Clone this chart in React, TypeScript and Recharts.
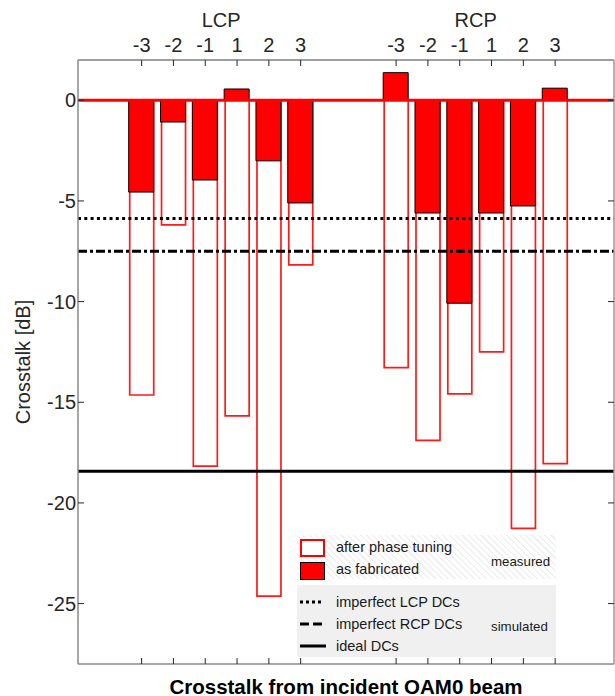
import React from 'react';
import {
  ComposedChart,
  Bar,
  XAxis,
  YAxis,
  ReferenceLine,
  Legend,
  Label,
} from 'recharts';

// ---- data ----
const modePositions = [1, 2, 3, 4, 5, 6, 9, 10, 11, 12, 13, 14];
const modeLabels = ['-3', '-2', '-1', '1', '2', '3', '-3', '-2', '-1', '1', '2', '3'];
const groupCenters = [3.5, 11.5];
const groupNames = ['LCP', 'RCP'];

const asFabricated = [-4.56, -1.08, -3.96, 0.56, -3.01, -5.1, 1.37, -5.6, -10.08, -5.6, -5.25, 0.6];
const afterPhaseTuning = [-14.64, -6.19, -18.17, -15.68, -24.63, -8.18, -13.28, -16.89, -14.58, -12.5, -21.26, -18.05];

const imperfectLcpDc = -5.87;
const imperfectRcpDc = -7.5;
const idealDc = -18.43;

const yTicks = [-25, -20, -15, -10, -5, 0];
const xDomain = [-1, 15.85];
const yDomain = [-28, 2];

const rows = modePositions.map((x, i) => ({
  x,
  fab: asFabricated[i],
  tuned: afterPhaseTuning[i],
}));

const FONT = '"Liberation Sans", Arial, Helvetica, sans-serif';
const TXT = '#262626';

const LegendBox = () => {
  const txt: React.CSSProperties = {
    position: 'absolute',
    left: 39,
    fontSize: 14.5,
    lineHeight: '18px',
    color: '#1a1a1a',
    whiteSpace: 'nowrap',
    fontFamily: FONT,
  };
  const side: React.CSSProperties = { ...txt, left: 194, fontSize: 13.3 };
  const line = (top: number, dash: string, width: number) => (
    <svg style={{ position: 'absolute', left: 3, top: top - 3 }} width={28} height={6}>
      <line x1={0} x2={width} y1={3} y2={3} stroke="#000" strokeWidth={3} strokeDasharray={dash} />
    </svg>
  );
  return (
    <div style={{ position: 'relative', width: 259, height: 122, fontFamily: FONT }}>
      <div
        style={{
          position: 'absolute',
          left: 0,
          top: 0,
          width: 259,
          height: 44,
          background:
            'repeating-linear-gradient(45deg, #ffffff 0px, #ffffff 3px, #f1f1f1 3px, #f1f1f1 4.5px)',
        }}
      />
      <div style={{ position: 'absolute', left: 0, top: 50, width: 259, height: 72, background: '#f0f0f0' }} />
      <div
        style={{
          position: 'absolute',
          left: 3,
          top: 4,
          width: 25,
          height: 18,
          boxSizing: 'border-box',
          border: '2px solid #ff0000',
          background: '#fff',
        }}
      />
      <div style={{ ...txt, top: 12 - 9 }}>after phase tuning</div>
      <div
        style={{
          position: 'absolute',
          left: 3,
          top: 27,
          width: 25,
          height: 18,
          boxSizing: 'border-box',
          border: '1px solid #000',
          background: '#ff0000',
        }}
      />
      <div style={{ ...txt, top: 34 - 9 }}>as fabricated</div>
      <div style={{ ...side, top: 27 - 9 }}>measured</div>
      {line(67, '3 3', 22)}
      <div style={{ ...txt, top: 67 - 9 }}>imperfect LCP DCs</div>
      {line(89, '9 4', 23)}
      <div style={{ ...txt, top: 89 - 9 }}>imperfect RCP DCs</div>
      {line(111, '', 26)}
      <div style={{ ...txt, top: 111 - 9 }}>ideal DCs</div>
      <div style={{ ...side, top: 92 - 9 }}>simulated</div>
    </div>
  );
};

export default function App() {
  return (
    <div style={{ position: 'absolute', left: 0, top: 0, width: 615, height: 696, background: '#fff' }}>
      <ComposedChart
        width={615}
        height={696}
        data={rows}
        margin={{ top: 0, right: 0, bottom: 0, left: 0 }}
        style={{ fontFamily: FONT }}
      >
        <XAxis
          xAxisId="fab"
          dataKey="x"
          type="number"
          domain={xDomain}
          allowDataOverflow
          ticks={modePositions}
          height={0}
          hide
        />
        <XAxis
          xAxisId="main"
          dataKey="x"
          type="number"
          domain={xDomain}
          allowDataOverflow
          ticks={modePositions}
          orientation="bottom"
          height={32}
          tickSize={-6}
          tickFormatter={() => ''}
          axisLine={{ stroke: '#8a8a8a', strokeWidth: 1.5 }}
          tickLine={{ stroke: '#262626' }}
        >
          <Label
            content={(p: any) => {
              const vb = p.viewBox;
              return (
                <text
                  x={vb.x + vb.width / 2}
                  y={vb.y + vb.height - 2}
                  textAnchor="middle"
                  fontSize={20.5}
                  fontWeight="bold"
                  fill="#000"
                  fontFamily={FONT}
                >
                  Crosstalk from incident OAM0 beam
                </text>
              );
            }}
          />
        </XAxis>
        <XAxis
          xAxisId="a_modes"
          dataKey="x"
          type="number"
          domain={xDomain}
          allowDataOverflow
          ticks={modePositions}
          orientation="top"
          height={30}
          tickSize={-6}
          tickMargin={14}
          interval={0}
          tickFormatter={(v: number) => modeLabels[modePositions.indexOf(v)]}
          tick={{ fontSize: 20, fill: TXT, fontFamily: FONT }}
          axisLine={{ stroke: '#404040', strokeWidth: 1 }}
          tickLine={{ stroke: '#262626' }}
        />
        <XAxis
          xAxisId="b_groups"
          dataKey="x"
          type="number"
          domain={xDomain}
          allowDataOverflow
          ticks={groupCenters}
          orientation="top"
          height={30}
          tickSize={0}
          tickMargin={3}
          interval={0}
          axisLine={false}
          tickLine={false}
          tickFormatter={(v: number) => groupNames[groupCenters.indexOf(v)]}
          tick={{ fontSize: 20, fill: TXT, fontFamily: FONT }}
        />
        <YAxis
          yAxisId="left"
          type="number"
          domain={yDomain}
          allowDataOverflow
          ticks={yTicks}
          width={78}
          tickSize={-6}
          tickMargin={8}
          interval={0}
          tick={{ fontSize: 20, fill: TXT, fontFamily: FONT }}
          axisLine={{ stroke: '#8a8a8a', strokeWidth: 1.5 }}
          tickLine={{ stroke: '#262626' }}
        >
          <Label
            content={(p: any) => {
              const vb = p.viewBox;
              const cx = vb.x + 30;
              const cy = vb.y + vb.height / 2;
              return (
                <text
                  x={cx}
                  y={cy}
                  transform={`rotate(-90, ${cx}, ${cy})`}
                  textAnchor="middle"
                  fontSize={20}
                  fill={TXT}
                  fontFamily={FONT}
                >
                  Crosstalk [dB]
                </text>
              );
            }}
          />
        </YAxis>
        <YAxis
          yAxisId="right"
          orientation="right"
          type="number"
          domain={yDomain}
          allowDataOverflow
          ticks={yTicks}
          width={1}
          tickSize={-6}
          interval={0}
          tickFormatter={() => ''}
          axisLine={{ stroke: '#9a9a9a', strokeWidth: 1.5 }}
          tickLine={{ stroke: '#262626' }}
        />
        <Bar
          xAxisId="main"
          yAxisId="left"
          dataKey="tuned"
          barSize={24}
          fill="#ffffff"
          stroke="#ff1a1a"
          strokeWidth={1.7}
          isAnimationActive={false}
        />
        <Bar
          xAxisId="fab"
          yAxisId="left"
          dataKey="fab"
          barSize={25}
          fill="#ff0000"
          stroke="#000000"
          strokeWidth={1}
          isAnimationActive={false}
        />
        <ReferenceLine xAxisId="main" yAxisId="left" y={0} stroke="#ff0000" strokeWidth={3} />
        <ReferenceLine xAxisId="main" yAxisId="left" y={imperfectLcpDc} stroke="#000" strokeWidth={3} strokeDasharray="3 3.3" />
        <ReferenceLine xAxisId="main" yAxisId="left" y={imperfectRcpDc} stroke="#000" strokeWidth={3} strokeDasharray="9 3 3 3" />
        <ReferenceLine xAxisId="main" yAxisId="left" y={idealDc} stroke="#000" strokeWidth={3} />
        <Legend
          layout="vertical"
          align="center"
          verticalAlign="middle"
          content={() => <LegendBox />}
          wrapperStyle={{ left: 297, top: 535, width: 259, height: 122, margin: 0 }}
        />
      </ComposedChart>
    </div>
  );
}
